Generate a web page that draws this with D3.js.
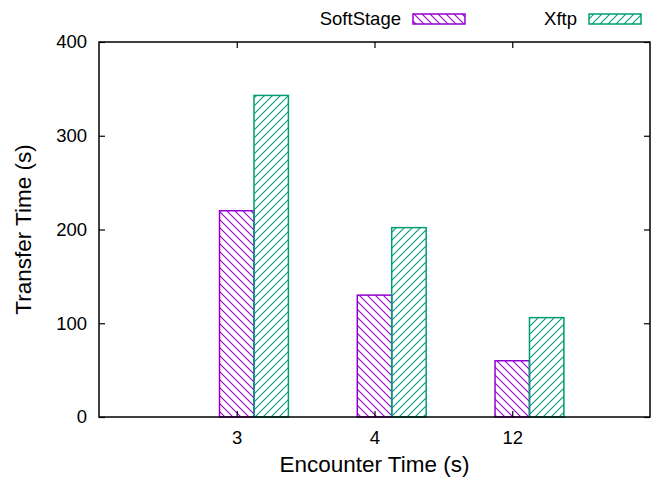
<!DOCTYPE html>
<html>
<head>
<meta charset="utf-8">
<script src="https://d3js.org/d3.v7.min.js"></script>
<style>
  body { margin: 0; background: #fff; }
  svg { display: block; font-family: "Liberation Sans", Arial, Helvetica, sans-serif; }
</style>
</head>
<body>
<script>
// encounter time categories and transfer times (s)
const categories = ["3", "4", "12"];
const softStage = [220, 130, 60];
const xftp = [343, 202, 106];
const yTicks = [0, 100, 200, 300, 400];

const width = 653, height = 482;
const margin = {top: 42, right: 3, bottom: 65, left: 99};

const svg = d3.select("body").append("svg")
  .attr("width", width)
  .attr("height", height);

const defs = svg.append("defs");
function hatch(id, color, d) {
  defs.append("pattern")
    .attr("id", id)
    .attr("patternUnits", "userSpaceOnUse")
    .attr("width", 8)
    .attr("height", 8)
    .append("path")
    .attr("d", d)
    .attr("stroke", color)
    .attr("stroke-width", 1.1)
    .attr("fill", "none");
}
hatch("back", "#9400d3", "M0,0L8,8M-2,6L2,10M6,-2L10,2");
hatch("fwd", "#009e73", "M0,8L8,0M-2,2L2,-2M6,10L10,6");

const series = [
  {name: "SoftStage", values: softStage, color: "#9400d3", fill: "url(#back)", off: -0.125},
  {name: "Xftp", values: xftp, color: "#009e73", fill: "url(#fwd)", off: 0.125}
];

const x = d3.scaleLinear().domain([-1, 3]).range([margin.left, width - margin.right]);
const y = d3.scaleLinear().domain([0, 400]).range([height - margin.bottom, margin.top]);
const bw = 0.25;
const tickPos = categories.map((c, i) => i);

// bars
series.forEach(s => {
  svg.append("g").selectAll("rect")
    .data(s.values)
    .join("rect")
    .attr("x", (d, i) => x(i + s.off))
    .attr("y", d => y(d))
    .attr("width", x(bw) - x(0))
    .attr("height", d => y(0) - y(d))
    .attr("fill", s.fill)
    .attr("stroke", s.color)
    .attr("stroke-width", 1.5);
});

// axes with inward ticks, mirrored on top and right
svg.append("g")
  .attr("transform", `translate(${margin.left},0)`)
  .call(d3.axisLeft(y).tickValues(yTicks).tickSize(-6).tickPadding(12))
  .call(g => g.select(".domain").remove());

svg.append("g")
  .attr("transform", `translate(${width - margin.right},0)`)
  .call(d3.axisRight(y).tickValues(yTicks).tickSize(-6).tickFormat(""))
  .call(g => g.select(".domain").remove());

svg.append("g")
  .attr("transform", `translate(0,${height - margin.bottom})`)
  .call(d3.axisBottom(x).tickValues(tickPos).tickSize(-6).tickPadding(14)
    .tickFormat((d, i) => categories[i]))
  .call(g => g.select(".domain").remove());

svg.append("g")
  .attr("transform", `translate(0,${margin.top})`)
  .call(d3.axisTop(x).tickValues(tickPos).tickSize(-6).tickFormat(""))
  .call(g => g.select(".domain").remove());

svg.selectAll(".tick text")
  .attr("font-size", 18.5)
  .attr("font-family", "Liberation Sans, Arial, sans-serif")
  .attr("fill", "#000");
svg.selectAll(".tick line").attr("stroke", "#000").attr("stroke-width", 1.2);

// border
svg.append("rect")
  .attr("x", margin.left)
  .attr("y", margin.top)
  .attr("width", width - margin.right - margin.left)
  .attr("height", height - margin.bottom - margin.top)
  .attr("fill", "none")
  .attr("stroke", "#000")
  .attr("stroke-width", 1.5);

// axis titles
svg.append("text")
  .attr("x", (margin.left + width - margin.right) / 2)
  .attr("y", 472)
  .attr("text-anchor", "middle")
  .attr("font-size", 22.5)
  .text("Encounter Time (s)");

svg.append("text")
  .attr("transform", `translate(31,${(margin.top + height - margin.bottom) / 2}) rotate(-90)`)
  .attr("text-anchor", "middle")
  .attr("font-size", 22.5)
  .text("Transfer Time (s)");

// legend
const legendX = [401, 577];
series.forEach((s, i) => {
  const g = svg.append("g");
  g.append("text")
    .attr("x", legendX[i])
    .attr("y", 25)
    .attr("text-anchor", "end")
    .attr("font-size", 18.5)
    .text(s.name);
  g.append("rect")
    .attr("x", legendX[i] + 12)
    .attr("y", 14)
    .attr("width", 52)
    .attr("height", 10)
    .attr("fill", s.fill)
    .attr("stroke", s.color)
    .attr("stroke-width", 1.5);
});
</script>
</body>
</html>
